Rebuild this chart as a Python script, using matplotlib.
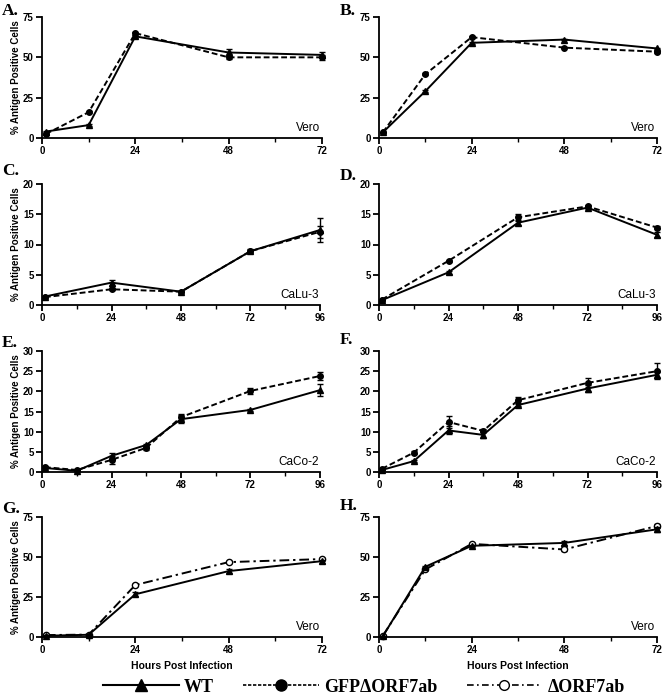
import numpy as np
import matplotlib
matplotlib.use('Agg')
import matplotlib.pyplot as plt
from matplotlib.lines import Line2D

# time points (hours post infection)
t_72 = [1, 12, 24, 48, 72]
t_96a = [1, 24, 48, 72, 96]
t_96b = [1, 12, 24, 36, 48, 72, 96]

# A. Vero
a_wt = [4, 8, 63, 53, 51.5]
a_wt_err = [0.5, 0.5, 1, 2, 1.5]
a_gfp = [2.5, 16, 65, 50, 50]
a_gfp_err = [0.5, 0.5, 1, 1, 1.5]
# B. Vero
b_wt = [3.5, 29, 59, 61, 55.5]
b_wt_err = [0.3, 0.5, 0.5, 0.5, 0.5]
b_gfp = [3.5, 39.5, 62.5, 56, 53.5]
b_gfp_err = [0.3, 0.5, 0.5, 0.5, 1]
# C. CaLu-3
c_wt = [1.4, 3.7, 2.2, 8.9, 12.4]
c_wt_err = [0.1, 0.5, 0.1, 0.3, 2.0]
c_gfp = [1.3, 2.6, 2.2, 8.9, 12.1]
c_gfp_err = [0.1, 0.2, 0.1, 0.2, 1.0]
# D. CaLu-3
d_wt = [0.8, 5.4, 13.6, 16.1, 11.6]
d_wt_err = [0.1, 0.2, 0.3, 0.3, 0.4]
d_gfp = [0.9, 7.3, 14.5, 16.3, 12.8]
d_gfp_err = [0.1, 0.2, 0.5, 0.3, 0.3]
# E. CaCo-2
e_wt = [1.0, 0.3, 4.0, 6.7, 13.1, 15.4, 20.3]
e_wt_err = [0.2, 0.1, 0.8, 0.3, 1.0, 0.3, 1.5]
e_gfp = [1.2, 0.5, 3.0, 6.0, 13.6, 20.1, 23.8]
e_gfp_err = [0.2, 0.1, 1.0, 0.5, 0.8, 0.8, 1.0]
# F. CaCo-2
f_wt = [0.5, 2.7, 10.3, 9.2, 16.6, 20.7, 24.1]
f_wt_err = [0.1, 0.2, 1.0, 0.8, 0.3, 0.8, 0.8]
f_gfp = [0.8, 4.8, 12.4, 10.2, 17.8, 22.1, 25.0]
f_gfp_err = [0.1, 0.3, 1.6, 0.4, 0.8, 1.1, 2.0]
# G. Vero
g_wt = [0.8, 1.4, 26.7, 41.2, 47.4]
g_wt_err = [0.3, 0.3, 1.2, 1.5, 1.0]
g_del = [1.2, 1.5, 32.5, 46.8, 48.7]
g_del_err = [0.3, 0.3, 0.8, 0.6, 0.8]
# H. Vero
h_wt = [0.5, 43.9, 57, 58.8, 67.3]
h_wt_err = [0.2, 0.5, 0.5, 1.5, 1.5]
h_del = [0.8, 42.2, 58.2, 54.7, 69.4]
h_del_err = [0.2, 0.5, 0.5, 0.8, 1.0]

sans = 'Liberation Sans'
serif = 'Liberation Serif'

W, H = 664, 694
fig = plt.figure(figsize=(W / 100, H / 100), dpi=100)

GFP_DASH = (3, 1.5)
DEL_DASH = (5, 2, 1.2, 2)


def make_ax(x0, x1, ytop, ybot):
    return fig.add_axes([x0 / W, 1 - ybot / H, (x1 - x0) / W, (ybot - ytop) / H])


def style_ax(ax, xmax, ymax, ystep, cell, xlabel=False):
    ax.set_xlim(0, xmax)
    ax.set_ylim(0, ymax)
    for s in ['top', 'right']:
        ax.spines[s].set_visible(False)
    for s in ['left', 'bottom']:
        ax.spines[s].set_linewidth(1.3)
    ax.set_xticks(np.arange(0, xmax + 1, 24))
    ax.set_xticks(np.arange(12, xmax, 24), minor=True)
    ax.set_yticks(np.arange(0, ymax + 0.1, ystep))
    ax.tick_params(which='major', length=4, width=1.3, direction='out', pad=2)
    ax.tick_params(which='minor', length=3, width=1.0, direction='out')
    for lab in ax.get_xticklabels() + ax.get_yticklabels():
        lab.set_fontfamily(sans)
        lab.set_fontweight('bold')
        lab.set_fontsize(7)
    ax.text(0.995, 0.03, cell, transform=ax.transAxes, ha='right', va='bottom',
            fontfamily=sans, fontsize=8.5)
    if xlabel:
        ax.set_xlabel('Hours Post Infection', fontfamily=sans, fontweight='bold',
                      fontsize=7.5, labelpad=4)


def plot_wt(ax, t, y, e):
    ax.errorbar(t, y, yerr=e, color='black', lw=1.4, ls='-', marker='^', ms=4.5,
                capsize=2.5, elinewidth=1.0, capthick=1.0, clip_on=False, zorder=3)


def plot_gfp(ax, t, y, e):
    ln = ax.errorbar(t, y, yerr=e, color='black', lw=1.4, ls='--', marker='o', ms=4,
                     capsize=2.5, elinewidth=1.0, capthick=1.0, clip_on=False, zorder=2)
    ln[0].set_dashes(GFP_DASH)


def plot_del(ax, t, y, e):
    ln = ax.errorbar(t, y, yerr=e, color='black', lw=1.4, ls='-.', marker='o', ms=4.5,
                     mfc='white', mec='black', mew=1.0, capsize=2.5, elinewidth=1.0,
                     capthick=1.0, clip_on=False, zorder=2)
    ln[0].set_dashes(DEL_DASH)


ylab = '% Antigen Positive Cells'

# row 1
axA = make_ax(42, 322, 17, 138)
plot_gfp(axA, t_72, a_gfp, a_gfp_err)
plot_wt(axA, t_72, a_wt, a_wt_err)
style_ax(axA, 72, 75, 25, 'Vero')
axB = make_ax(379, 657, 17, 138)
plot_gfp(axB, t_72, b_gfp, b_gfp_err)
plot_wt(axB, t_72, b_wt, b_wt_err)
style_ax(axB, 72, 75, 25, 'Vero')

# row 2
axC = make_ax(42, 320, 184, 305)
plot_gfp(axC, t_96a, c_gfp, c_gfp_err)
plot_wt(axC, t_96a, c_wt, c_wt_err)
style_ax(axC, 96, 20, 5, 'CaLu-3')
axD = make_ax(379, 657, 184, 305)
plot_gfp(axD, t_96a, d_gfp, d_gfp_err)
plot_wt(axD, t_96a, d_wt, d_wt_err)
style_ax(axD, 96, 20, 5, 'CaLu-3')

# row 3
axE = make_ax(42, 320, 351, 472)
plot_gfp(axE, t_96b, e_gfp, e_gfp_err)
plot_wt(axE, t_96b, e_wt, e_wt_err)
style_ax(axE, 96, 30, 5, 'CaCo-2')
axF = make_ax(379, 657, 351, 472)
plot_gfp(axF, t_96b, f_gfp, f_gfp_err)
plot_wt(axF, t_96b, f_wt, f_wt_err)
style_ax(axF, 96, 30, 5, 'CaCo-2')

# row 4
axG = make_ax(42, 322, 517, 637)
plot_del(axG, t_72, g_del, g_del_err)
plot_wt(axG, t_72, g_wt, g_wt_err)
style_ax(axG, 72, 75, 25, 'Vero', xlabel=True)
axH = make_ax(379, 657, 517, 637)
plot_del(axH, t_72, h_del, h_del_err)
plot_wt(axH, t_72, h_wt, h_wt_err)
style_ax(axH, 72, 75, 25, 'Vero', xlabel=True)

for ax in [axA, axC, axE, axG]:
    ax.set_ylabel(ylab, fontfamily=sans, fontweight='bold', fontsize=7)
    ax.yaxis.set_label_coords(-21 / 280, 0.5)

# panel letters
letters = [('A.', 2, 11), ('B.', 340, 11), ('C.', 2, 171), ('D.', 340, 176),
           ('E.', 2, 343), ('F.', 340, 340), ('G.', 2, 509), ('H.', 340, 506)]
for lab, x, y in letters:
    fig.text(x / W, 1 - y / H, lab, fontfamily=serif, fontweight='bold',
             fontsize=12.5, ha='left', va='center')

# legend
handles = [
    Line2D([], [], color='black', lw=1.5, ls='-', marker='^', ms=8),
    Line2D([], [], color='black', lw=1.2, dashes=(2, 1), marker='o', ms=8),
    Line2D([], [], color='black', lw=1.2, dashes=(4, 2, 1, 2), marker='o', ms=7,
           mfc='white', mew=1.0),
]
fig.legend(handles, ['WT', 'GFP\u0394ORF7ab', '\u0394ORF7ab'], loc='center',
           bbox_to_anchor=(364 / W, 1 - 687 / H), ncol=3, frameon=False,
           handlelength=4.2, handletextpad=0.3, columnspacing=1.6,
           borderpad=0.1, prop={'family': serif, 'weight': 'bold', 'size': 13})

fig.savefig('out.png', dpi=100)
